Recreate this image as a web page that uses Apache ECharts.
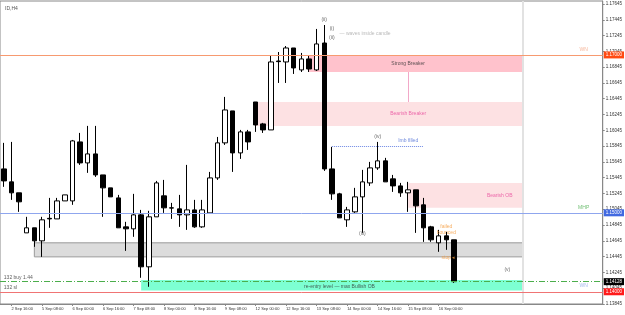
<!DOCTYPE html>
<html>
<head>
<meta charset="utf-8">
<script src="https://cdn.jsdelivr.net/npm/echarts@6/dist/echarts.min.js"></script>
<style>
  html, body { margin: 0; padding: 0; background: #fff; }
  #chart { width: 625px; height: 315px; }
</style>
</head>
<body>
<div id="chart"></div>
<script>
// H4 bars, one per category
var times = [
  '2 Sep 12:00', '2 Sep 16:00', '2 Sep 20:00',
  '5 Sep 00:00', '5 Sep 04:00', '5 Sep 08:00', '5 Sep 12:00', '5 Sep 16:00', '5 Sep 20:00',
  '6 Sep 00:00', '6 Sep 04:00', '6 Sep 08:00', '6 Sep 12:00', '6 Sep 16:00', '6 Sep 20:00',
  '7 Sep 00:00', '7 Sep 04:00', '7 Sep 08:00', '7 Sep 12:00', '7 Sep 16:00', '7 Sep 20:00',
  '8 Sep 00:00', '8 Sep 04:00', '8 Sep 08:00', '8 Sep 12:00', '8 Sep 16:00', '8 Sep 20:00',
  '9 Sep 00:00', '9 Sep 04:00', '9 Sep 08:00', '9 Sep 12:00', '9 Sep 16:00', '9 Sep 20:00',
  '12 Sep 00:00', '12 Sep 04:00', '12 Sep 08:00', '12 Sep 12:00', '12 Sep 16:00', '12 Sep 20:00',
  '13 Sep 00:00', '13 Sep 04:00', '13 Sep 08:00', '13 Sep 12:00', '13 Sep 16:00', '13 Sep 20:00',
  '14 Sep 00:00', '14 Sep 04:00', '14 Sep 08:00', '14 Sep 12:00', '14 Sep 16:00', '14 Sep 20:00',
  '15 Sep 00:00', '15 Sep 04:00', '15 Sep 08:00', '15 Sep 12:00', '15 Sep 16:00', '15 Sep 20:00',
  '16 Sep 00:00', '16 Sep 04:00', '16 Sep 08:00'
];

// [open, close, low, high]
var ohlc = [
  [1.15556, 1.15404, 1.15329, 1.15886], [1.15392, 1.15253, 1.15164, 1.15898], [1.15253, 1.15139, 1.15012, 1.15253],
  [1.14746, 1.14810, 1.14746, 1.14949], [1.14810, 1.14645, 1.14569, 1.14810], [1.14645, 1.14911, 1.14442, 1.14949],
  [1.14930, 1.14923, 1.14810, 1.15189], [1.14923, 1.15151, 1.14923, 1.15189], [1.15151, 1.15227, 1.15151, 1.15227],
  [1.15151, 1.15911, 1.15101, 1.15923], [1.15898, 1.15632, 1.15607, 1.16012], [1.15632, 1.15746, 1.15506, 1.16101],
  [1.15746, 1.15480, 1.15455, 1.16101], [1.15480, 1.15316, 1.14949, 1.15480], [1.15316, 1.15202, 1.15202, 1.15316],
  [1.15189, 1.14810, 1.14810, 1.15227], [1.14822, 1.14797, 1.14518, 1.14886], [1.14797, 1.14974, 1.14696, 1.15240],
  [1.14974, 1.14316, 1.14177, 1.15037], [1.14316, 1.14949, 1.14063, 1.15025], [1.14949, 1.15379, 1.14949, 1.15404],
  [1.15215, 1.15063, 1.14999, 1.15417], [1.15063, 1.15060, 1.14923, 1.15126], [1.15050, 1.14974, 1.14822, 1.15227],
  [1.14974, 1.15037, 1.14784, 1.15607], [1.15037, 1.14822, 1.14810, 1.15164], [1.14822, 1.15037, 1.14810, 1.15164],
  [1.14999, 1.15442, 1.14999, 1.15518], [1.15442, 1.15886, 1.15417, 1.15961], [1.15886, 1.16303, 1.15860, 1.16468],
  [1.16291, 1.15759, 1.15518, 1.16291], [1.15759, 1.16025, 1.15683, 1.16050], [1.16025, 1.15898, 1.15797, 1.16050],
  [1.16404, 1.16113, 1.16025, 1.16404], [1.16126, 1.16050, 1.16012, 1.16139], [1.16050, 1.16911, 1.16050, 1.16999],
  [1.16923, 1.16915, 1.16645, 1.17037], [1.16911, 1.17088, 1.16645, 1.17113], [1.17088, 1.16835, 1.16759, 1.17088],
  [1.16810, 1.16949, 1.16784, 1.17025], [1.16949, 1.16822, 1.16784, 1.16999], [1.16810, 1.17139, 1.16797, 1.17329],
  [1.17151, 1.15556, 1.15531, 1.17379], [1.15556, 1.15240, 1.15164, 1.15835], [1.15240, 1.14936, 1.14936, 1.15253],
  [1.14911, 1.15037, 1.14822, 1.15075], [1.15012, 1.15202, 1.14999, 1.15316], [1.15202, 1.15392, 1.14746, 1.15544],
  [1.15379, 1.15569, 1.15341, 1.15645], [1.15569, 1.15658, 1.15544, 1.15898], [1.15658, 1.15392, 1.15392, 1.15696],
  [1.15430, 1.15341, 1.15265, 1.15480], [1.15341, 1.15253, 1.15202, 1.15379], [1.15253, 1.15291, 1.15012, 1.15392],
  [1.15291, 1.15088, 1.14746, 1.15291], [1.15101, 1.14810, 1.14632, 1.15189], [1.14822, 1.14658, 1.14632, 1.14835],
  [1.14620, 1.14708, 1.14506, 1.14784], [1.14708, 1.14658, 1.14531, 1.14759], [1.14658, 1.14128, 1.14113, 1.14658]
];

var futureBars = 19;     // empty space right of the last bar
var shiftBar = 68;       // chart shift separator

// zones: [label, fromBar, toBar, top, bottom]
var zones = [
  ['Strong Breaker', 40, 68, 1.16999, 1.16784],
  ['Bearish Breaker', 33, 68, 1.16404, 1.16101],
  ['Bearish OB', 53, 68, 1.15379, 1.15063],
  ['demand', 4, 68, 1.14620, 1.14442],
  ['re-entry', 18, 68, 1.14150, 1.14015]
];

// horizontal levels: [name, price, tag]
var levels = [
  ['WN', 1.17000, '1.17000'],
  ['MHP', 1.15000, '1.15000'],
  ['buy', 1.14128, '1.14128'],
  ['sl', 1.14000, '1.14000']
];

var imbLine = [43, 54.5, 1.15847];
var connector = [53, 1.16784, 1.16404];

// [text, bar, price, kind]
var notes = [
  ['(ii)', 42, 1.17442, 'wave'],
  ['(i)', 42.6, 1.17329, 'wave'],
  ['(ii)', 42.6, 1.17215, 'wave'],
  ['— waves inside candle', 43.5, 1.17265, 'hint'],
  ['Strong Breaker', 52.8, 1.16885, 'dark'],
  ['Bearish Breaker', 53, 1.16253, 'pink'],
  ['Bearish OB', 64.8, 1.15215, 'pink'],
  ['Imb filled', 52.9, 1.15911, 'blue'],
  ['(iv)', 48.9, 1.15961, 'wave'],
  ['(iii)', 46.9, 1.14734, 'wave'],
  ['(v)', 66, 1.14278, 'wave'],
  ['failed\nbounced', 58.1, 1.14790, 'orange'],
  ['re-entry level — max Bullish OB', 43.9, 1.14068, 'dark'],
  ['WN', 75.9, 1.17063, 'salmon'],
  ['MHP', 75.8, 1.15063, 'green'],
  ['WN', 75.9, 1.14075, 'lightblue'],
  ['132 buy 1.44', 0, 1.14185, 'left'],
  ['132 sl', 0, 1.14051, 'left'],
  ['stop', 57.6, 1.14430, 'orange'],
  ['◂', 59.3, 1.14430, 'orange']
];

var zoneStyle = {
  'Strong Breaker': { color: '#ffc2cc' },
  'Bearish Breaker': { color: '#fde1e3' },
  'Bearish OB': { color: '#fde1e3' },
  'demand': { color: '#dcdcdc', borderColor: '#9a9a9a' },
  're-entry': { color: '#7dffd2' }
};
var levelStyle = {
  WN: { line: '#f79a70', tag: '#ff4a12', type: 'solid' },
  MHP: { line: '#8fa6ee', tag: '#4169e1', type: 'solid' },
  buy: { line: '#4cae4c', tag: '#000000', type: [6, 2, 1, 2] },
  sl: { line: '#f07474', tag: '#ff1a1a', type: 'solid' }
};
var noteColor = {
  wave: '#444', hint: '#aaa', dark: '#333', pink: '#e8489b', blue: '#4a6cd4',
  orange: '#f59a3a', salmon: '#f4a27f', green: '#4caf50', lightblue: '#8fa8e8', left: '#333'
};

var categories = times.slice();
for (var i = 0; i < futureBars; i++) categories.push('');

var font = 'Liberation Sans';
var chart = echarts.init(document.getElementById('chart'));

function showTimeLabel(idx) { return idx % 4 === 1 && idx < times.length; }

var levelSeries = levels.map(function (l) {
  var st = levelStyle[l[0]];
  return {
    name: 'level ' + l[0],
    type: 'line',
    data: [],
    z: 4,
    silent: true,
    markLine: {
      silent: true,
      symbol: 'none',
      precision: 5,   // default 2 would round 1.14128 to 1.14
      animation: false,
      lineStyle: { color: st.line, width: 1, type: st.type, opacity: 1 },
      label: {
        show: true, position: 'end', distance: 1, formatter: l[2],
        backgroundColor: st.tag, color: '#fff', fontSize: 4.5, padding: [1, 2, 1, 2], fontFamily: font
      },
      data: [{ yAxis: l[1] }]
    }
  };
});

var option = {
  animation: false,
  backgroundColor: '#fff',
  textStyle: { fontFamily: font },
  title: {
    text: 'ID,H4', left: 0, top: 1,
    textStyle: { fontSize: 5, fontWeight: 'normal', color: '#555', fontFamily: font }
  },
  grid: {
    left: -2, right: 22, top: 1, bottom: 11,
    show: true, borderColor: '#888', borderWidth: 1, backgroundColor: '#fff'
  },
  xAxis: {
    type: 'category',
    data: categories,
    boundaryGap: true,
    axisLine: { lineStyle: { color: '#888' } },
    axisTick: {
      show: true, length: 2, alignWithLabel: true,
      interval: showTimeLabel,
      lineStyle: { color: '#888' }
    },
    axisLabel: {
      interval: showTimeLabel,
      align: 'left', fontSize: 4, color: '#333', margin: 3, fontFamily: font
    },
    splitLine: { show: false }
  },
  yAxis: {
    type: 'value',
    position: 'right',
    min: 1.13845,
    max: 1.17683,
    interval: 0.002,
    axisLine: { show: true, lineStyle: { color: '#888' } },
    axisTick: { show: true, length: 2, lineStyle: { color: '#888' } },
    axisLabel: {
      fontSize: 4.5, color: '#333', margin: 3, showMaxLabel: false, fontFamily: font,
      formatter: function (v) { return v.toFixed(5); }
    },
    splitLine: { show: false }
  },
  series: [
    {
      name: 'price',
      type: 'candlestick',
      data: ohlc,
      barWidth: 5,
      z: 3,
      itemStyle: {
        color: '#ffffff', color0: '#000000',
        borderColor: '#000000', borderColor0: '#000000', borderWidth: 1
      },
      markArea: {
        silent: true,
        z: 1,
        data: zones.map(function (z) {
          var st = zoneStyle[z[0]];
          return [
            { xAxis: z[1], yAxis: z[3],
              itemStyle: { color: st.color, borderColor: st.borderColor || st.color, borderWidth: st.borderColor ? 1 : 0 } },
            { xAxis: z[2], yAxis: z[4] }
          ];
        })
      },
      markLine: {
        silent: true,
        symbol: 'none',
        precision: 5,
        z: 2,
        label: { show: false },
        data: [
          { xAxis: shiftBar, lineStyle: { color: '#e2e2e2', width: 2, type: 'solid' } },
          [
            { coord: [imbLine[0], imbLine[2]], lineStyle: { color: '#6c86e4', width: 1, type: 'dotted' } },
            { coord: [imbLine[1], imbLine[2]] }
          ],
          [
            { coord: [connector[0], connector[1]], lineStyle: { color: '#f2a8c8', width: 1, type: 'solid' } },
            { coord: [connector[0], connector[2]] }
          ]
        ]
      }
    }
  ].concat(levelSeries).concat([
    {
      name: 'notes',
      type: 'scatter',
      symbolSize: 0,
      z: 6,
      clip: false,
      silent: true,
      data: notes.map(function (n) {
        var left = n[3] === 'left' || n[3] === 'hint';
        return {
          value: [n[1], n[2]],
          label: {
            show: true, position: 'inside', formatter: n[0],
            align: left ? 'left' : 'center', verticalAlign: 'middle',
            color: noteColor[n[3]], fontSize: 5, lineHeight: 6, fontFamily: font
          }
        };
      })
    }
  ])
};

chart.setOption(option);
window.addEventListener('resize', chart.resize);
</script>
</body>
</html>
